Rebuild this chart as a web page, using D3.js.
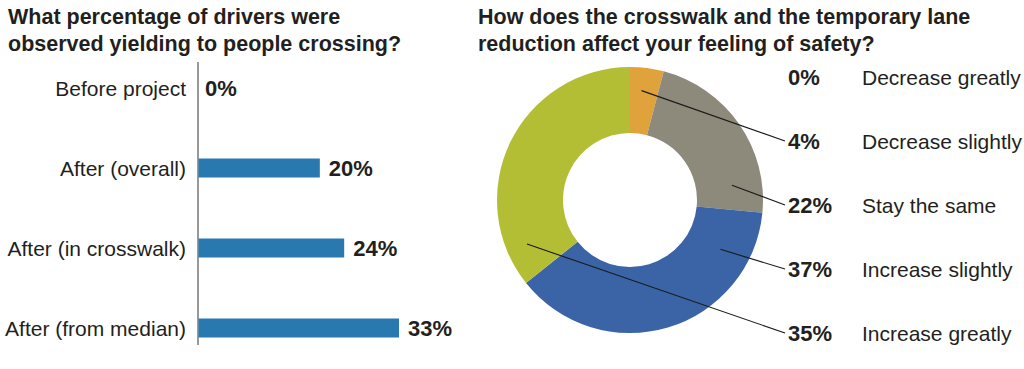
<!DOCTYPE html>
<html><head><meta charset="utf-8">
<script src="https://cdn.jsdelivr.net/npm/d3@7"></script>
<style>html,body{margin:0;padding:0;background:#fff;}svg{display:block;}</style>
</head><body>
<svg id="c" width="1024" height="369"></svg>
<script>
// Left chart data
const barCategories = ["Before project", "After (overall)", "After (in crosswalk)", "After (from median)"];
const barValues = [0, 20, 24, 33];
const barTitle = ["What percentage of drivers were", "observed yielding to people crossing?"];

// Right chart data
const pieCategories = ["Decrease greatly", "Decrease slightly", "Stay the same", "Increase slightly", "Increase greatly"];
const pieValues = [0, 4, 22, 37, 35];
const pieColors = ["#d9982f", "#e0a33c", "#8d897b", "#3a64a5", "#b3be35"];
const pieTitle = ["How does the crosswalk and the temporary lane", "reduction affect your feeling of safety?"];
// leader anchor: fraction along slice angle, radius
const leaderFrac = [null, 0.41, 0.83, 0.17, 0.12];
const leaderRad = [null, 110, 103, 103, 112];

const svg = d3.select("#c");
const font = "'Liberation Sans', Arial, Helvetica, sans-serif";
const ink = "#231f20";

// Titles
function title(lines, x) {
  const t = svg.append("text").attr("x", x).attr("y", 24)
    .attr("font-family", font).attr("font-weight", "bold").attr("font-size", 21.5).attr("fill", ink);
  lines.forEach((l, i) => t.append("tspan").attr("x", x).attr("y", 24 + i * 27).text(l));
}
title(barTitle, 8);
title(pieTitle, 478);

// Bar chart
const x = d3.scaleLinear().domain([0, 33]).range([198, 399]);
const y = d3.scalePoint().domain(barCategories).range([88, 328]);
const barH = 19;
const g1 = svg.append("g");
g1.append("line").attr("x1", x(0)).attr("x2", x(0)).attr("y1", 62).attr("y2", 345)
  .attr("stroke", "#333").attr("stroke-width", 1);
g1.selectAll("rect").data(barValues).join("rect")
  .attr("x", x(0) + 0.5).attr("y", (d, i) => y(barCategories[i]) - barH / 2)
  .attr("width", d => Math.max(0, x(d) - x(0) - 0.5)).attr("height", barH)
  .attr("fill", "#2a78b0");
g1.selectAll("text.cat").data(barCategories).join("text").attr("class", "cat")
  .attr("x", 186).attr("y", d => y(d)).attr("dy", "0.36em").attr("text-anchor", "end")
  .attr("font-family", font).attr("font-size", 21).attr("fill", ink).text(d => d);
g1.selectAll("text.val").data(barValues).join("text").attr("class", "val")
  .attr("x", d => x(d) + (d > 0 ? 9 : 7)).attr("y", (d, i) => y(barCategories[i])).attr("dy", "0.36em")
  .attr("font-family", font).attr("font-weight", "bold").attr("font-size", 22).attr("fill", ink)
  .text(d => d + "%");

// Donut
const cx = 630, cy = 200, rOut = 133, rIn = 67;
const pie = d3.pie().sort(null).value(d => d)(pieValues);
const arc = d3.arc().innerRadius(rIn).outerRadius(rOut);
const g2 = svg.append("g").attr("transform", `translate(${cx},${cy})`);
g2.selectAll("path").data(pie).join("path")
  .attr("d", arc).attr("fill", (d, i) => pieColors[i]);

const ly = d3.scalePoint().domain(pieCategories).range([77, 333]);
// leader lines
pie.forEach((d, i) => {
  if (leaderFrac[i] == null) return;
  const a = d.startAngle + (d.endAngle - d.startAngle) * leaderFrac[i];
  const px = cx + Math.sin(a) * leaderRad[i];
  const py = cy - Math.cos(a) * leaderRad[i];
  svg.append("line").attr("x1", px).attr("y1", py).attr("x2", 785).attr("y2", ly(pieCategories[i]))
    .attr("stroke", "#1a1a1a").attr("stroke-width", 1.1);
});
svg.selectAll("text.pv").data(pieValues).join("text").attr("class", "pv")
  .attr("x", 788).attr("y", (d, i) => ly(pieCategories[i])).attr("dy", "0.36em")
  .attr("font-family", font).attr("font-weight", "bold").attr("font-size", 22).attr("fill", ink)
  .text(d => d + "%");
svg.selectAll("text.pc").data(pieCategories).join("text").attr("class", "pc")
  .attr("x", 862).attr("y", d => ly(d)).attr("dy", "0.36em")
  .attr("font-family", font).attr("font-size", 21).attr("fill", ink).text(d => d);
</script>
</body></html>
